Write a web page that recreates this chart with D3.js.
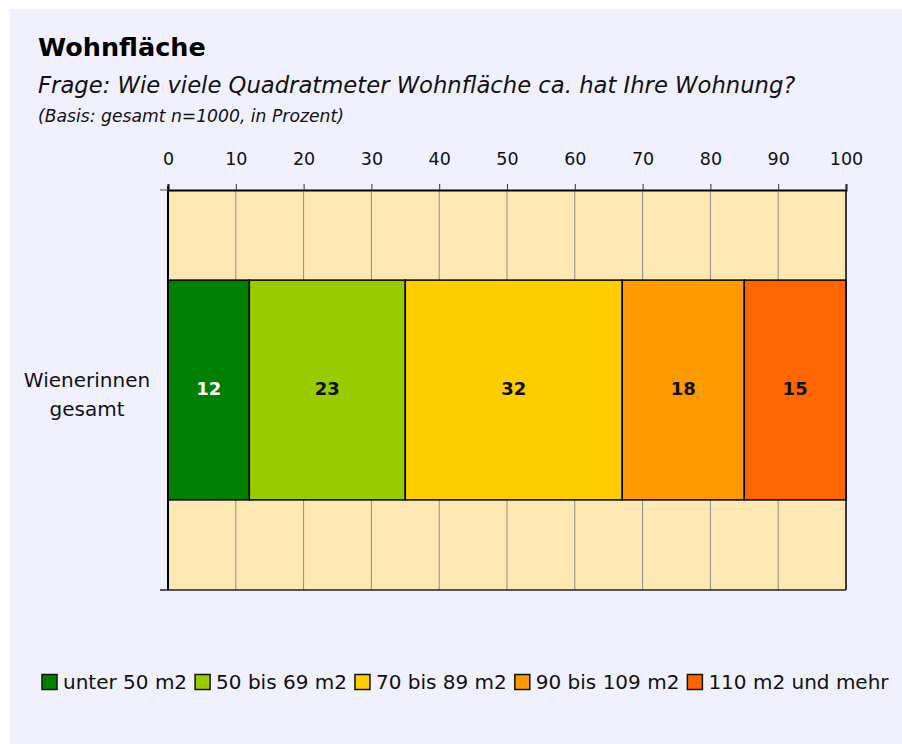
<!DOCTYPE html>
<html>
<head>
<meta charset="utf-8">
<script src="https://cdn.jsdelivr.net/npm/d3@7"></script>
<style>
  body { margin: 0; background: #fff; }
  svg { display: block; font-family: "DejaVu Sans", sans-serif; }
</style>
</head>
<body>
<svg id="chart"></svg>
<script>
const width = 902;
const height = 744;

// data
const categories = ["Wienerinnen gesamt"];
const seriesNames = ["unter 50 m2", "50 bis 69 m2", "70 bis 89 m2", "90 bis 109 m2", "110 m2 und mehr"];
const seriesValues = [12, 23, 32, 18, 15];
const seriesColors = ["#008000", "#99cc00", "#ffcc00", "#ff9900", "#ff6600"];
const xTicks = [0, 10, 20, 30, 40, 50, 60, 70, 80, 90, 100];

const svg = d3.select("#chart")
    .attr("width", width)
    .attr("height", height);

svg.append("rect")
    .attr("x", 10).attr("y", 9)
    .attr("width", width - 10).attr("height", height - 9)
    .attr("fill", "#f0f0ff");

// titles
svg.append("text")
    .attr("x", 38).attr("y", 56)
    .attr("font-size", 25.5).attr("font-weight", "bold")
    .text("Wohnfläche");
svg.append("text")
    .attr("x", 38).attr("y", 93)
    .attr("font-size", 22.7).attr("font-style", "italic")
    .attr("fill", "#111")
    .text("Frage: Wie viele Quadratmeter Wohnfläche ca. hat Ihre Wohnung?");
svg.append("text")
    .attr("x", 38).attr("y", 122)
    .attr("font-size", 17.2).attr("font-style", "italic")
    .attr("fill", "#111")
    .text("(Basis: gesamt n=1000, in Prozent)");

const plot = { left: 168, right: 846, top: 190, bottom: 590 };

const x = d3.scaleLinear()
    .domain([0, 100])
    .range([plot.left, plot.right]);

const y = d3.scaleBand()
    .domain(categories)
    .range([plot.top, plot.bottom])
    .paddingInner(0)
    .paddingOuter(0.41);

// plot background
svg.append("rect")
    .attr("x", plot.left).attr("y", plot.top)
    .attr("width", plot.right - plot.left)
    .attr("height", plot.bottom - plot.top)
    .attr("fill", "#fde8b4");

// grid
svg.append("g")
    .selectAll("line")
    .data(xTicks.slice(1, -1))
    .join("line")
    .attr("x1", d => x(d)).attr("x2", d => x(d))
    .attr("y1", plot.top).attr("y2", plot.bottom)
    .attr("stroke", "#8c8c8c")
    .attr("stroke-width", 1);

// stacked segments
let acc = 0;
const segments = seriesValues.map((v, i) => {
    const s = { name: seriesNames[i], value: v, x0: acc, x1: acc + v, color: seriesColors[i] };
    acc += v;
    return s;
});

const barGroup = svg.append("g");
barGroup.selectAll("rect")
    .data(segments)
    .join("rect")
    .attr("x", d => x(d.x0))
    .attr("y", y(categories[0]))
    .attr("width", d => x(d.x1) - x(d.x0))
    .attr("height", y.bandwidth())
    .attr("fill", d => d.color)
    .attr("stroke", "#000")
    .attr("stroke-width", 1.5);

barGroup.selectAll("text")
    .data(segments)
    .join("text")
    .attr("x", d => (x(d.x0) + x(d.x1)) / 2)
    .attr("y", y(categories[0]) + y.bandwidth() / 2)
    .attr("dy", "0.26em")
    .attr("text-anchor", "middle")
    .attr("font-size", 18)
    .attr("font-weight", "bold")
    .attr("fill", (d, i) => i === 0 ? "#fff" : "#111")
    .text(d => d.value);

// top axis
const xAxis = svg.append("g")
    .attr("transform", `translate(0,${plot.top})`)
    .call(d3.axisTop(x).tickValues(xTicks).tickSize(6).tickPadding(19));
xAxis.select(".domain").attr("stroke", "#000").attr("stroke-width", 2);
xAxis.selectAll(".tick line").attr("stroke", "#333");
xAxis.selectAll(".tick text")
    .attr("font-size", 17.5)
    .attr("font-family", "'DejaVu Sans', sans-serif")
    .attr("fill", "#111");

// frame: right and bottom
svg.append("line")
    .attr("x1", plot.right).attr("x2", plot.right)
    .attr("y1", plot.top).attr("y2", plot.bottom)
    .attr("stroke", "#000").attr("stroke-width", 1.5);
svg.append("line")
    .attr("x1", plot.left - 8).attr("x2", plot.right)
    .attr("y1", plot.bottom).attr("y2", plot.bottom)
    .attr("stroke", "#222").attr("stroke-width", 1.5);

// left axis
svg.append("line")
    .attr("x1", plot.left).attr("x2", plot.left)
    .attr("y1", plot.top - 4).attr("y2", plot.bottom)
    .attr("stroke", "#000").attr("stroke-width", 2);
svg.append("line")
    .attr("x1", plot.left - 8).attr("x2", plot.left)
    .attr("y1", plot.top).attr("y2", plot.top)
    .attr("stroke", "#555").attr("stroke-width", 1);

// category label
const catLabel = svg.append("text")
    .attr("x", 87)
    .attr("y", y(categories[0]) + y.bandwidth() / 2)
    .attr("text-anchor", "middle")
    .attr("font-size", 20)
    .attr("fill", "#111");
const words = categories[0].split(" ");
words.forEach((w, i) => {
    catLabel.append("tspan")
        .attr("x", 87)
        .attr("dy", i === 0 ? "-0.15em" : "1.45em")
        .text(w);
});

// legend
const legend = svg.append("g").attr("transform", "translate(42,682)");
let lx = 0;
segments.forEach(d => {
    const item = legend.append("g").attr("transform", `translate(${lx},0)`);
    item.append("rect")
        .attr("x", 0).attr("y", -7.5)
        .attr("width", 15).attr("height", 15)
        .attr("fill", d.color)
        .attr("stroke", "#111").attr("stroke-width", 1.5);
    const t = item.append("text")
        .attr("x", 21).attr("y", 0)
        .attr("dy", "0.36em")
        .attr("font-size", 20)
        .attr("fill", "#111")
        .text(d.name);
    lx += 21 + t.node().getComputedTextLength() + 8;
});
</script>
</body>
</html>
